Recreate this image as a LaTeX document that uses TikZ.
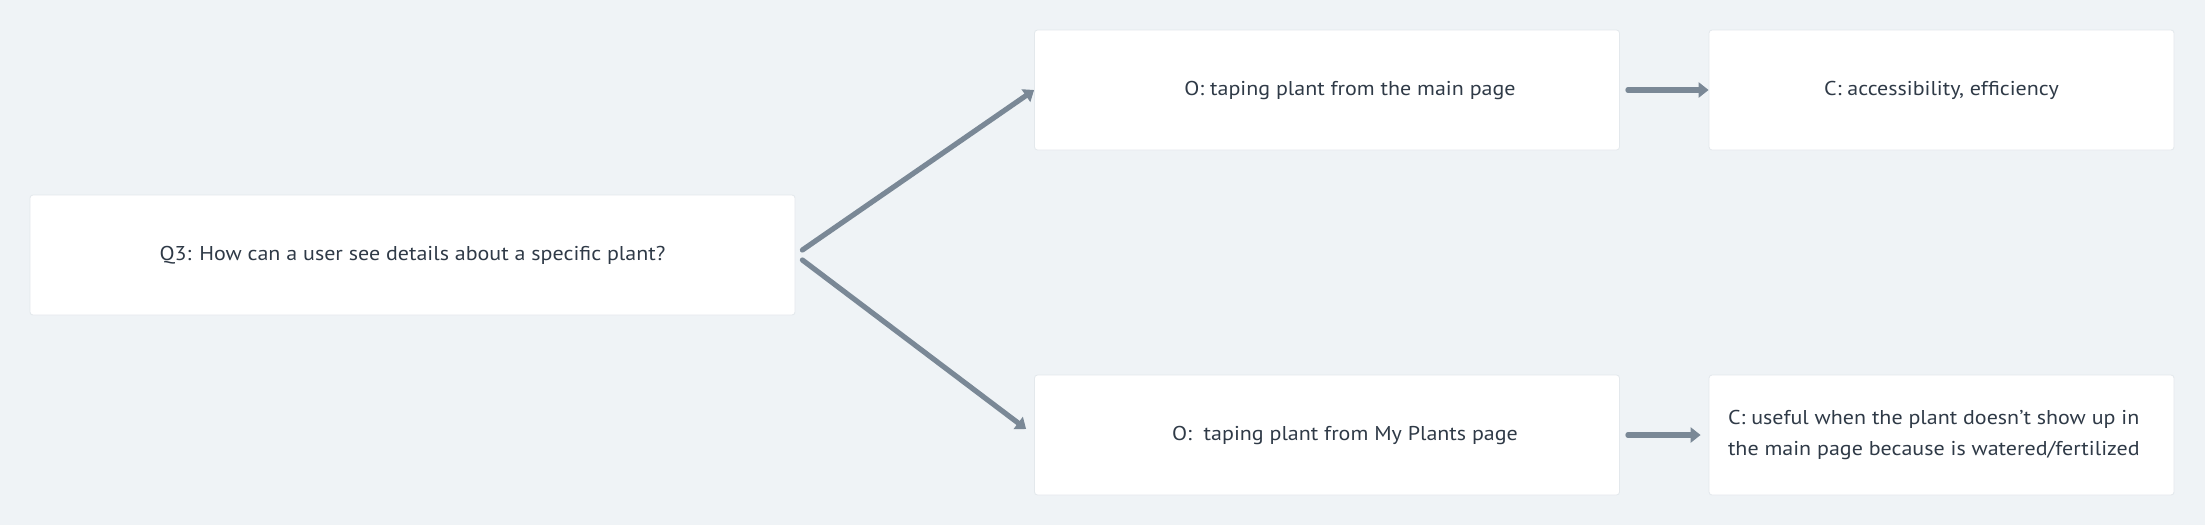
\documentclass[tikz,border=0pt]{standalone}
\usepackage{fontspec}
\setmainfont{PT Sans}[FakeStretch=1.1]
\usetikzlibrary{arrows.meta}
\definecolor{bgc}{HTML}{EFF3F6}
\definecolor{txc}{HTML}{2F3A47}
\definecolor{arc}{HTML}{7A8896}
\definecolor{shd}{HTML}{E3E8EC}
\begin{document}
\begin{tikzpicture}[x=0.5pt,y=-0.5pt,
  box/.style={fill=white,draw=shd,line width=0.4pt,rounded corners=1.5pt,inner sep=0pt,text=txc,font=\fontsize{10}{15}\selectfont},
  arr/.style={draw=arc,line width=2.6pt,line cap=round,-{Triangle[length=5pt,width=7.5pt]}},
  txt/.style={text=txc,font=\fontsize{10}{15.5}\selectfont,inner sep=0pt}]
\fill[bgc] (0,0) rectangle (2205,525);
\useasboundingbox (0,0) rectangle (2205,525);
\node[box,minimum width=382.5pt,minimum height=60pt] (q3) at (412.5,255) {Q3: How can a user see details about a specific plant?};
\node[box,minimum width=292.5pt,minimum height=60pt] (o1) at (1327,90) {};
\node[txt] (o1t) at (1350,90) {O: taping plant from the main page};
\node[box,minimum width=232.5pt,minimum height=60pt] (c1) at (1941.5,90) {C: accessibility, efficiency};
\node[box,minimum width=292.5pt,minimum height=60pt] (o2) at (1327,435) {};
\node[txt] (o2t) at (1345,435) {O:\ \ taping plant from My Plants page};
\node[box,minimum width=232.5pt,minimum height=60pt] (c2) at (1941.5,435) {};
\node[txt,anchor=west,align=left] (c2t) at ([xshift=9.5pt]c2.west) {C: useful when the plant doesn’t show up in\\the main page because is watered/fertilized};
\draw[arr] ([shift={(7,-5)}]q3.east) -- (o1.west);
\draw[arr] ([shift={(7,5)}]q3.east) -- ([shift={(-8,-6)}]o2.west);
\draw[arr] ([xshift=4pt]o1.east) -- (c1.west);
\draw[arr] ([xshift=4pt]o2.east) -- ([xshift=-4pt]c2.west);
\end{tikzpicture}
\end{document}
